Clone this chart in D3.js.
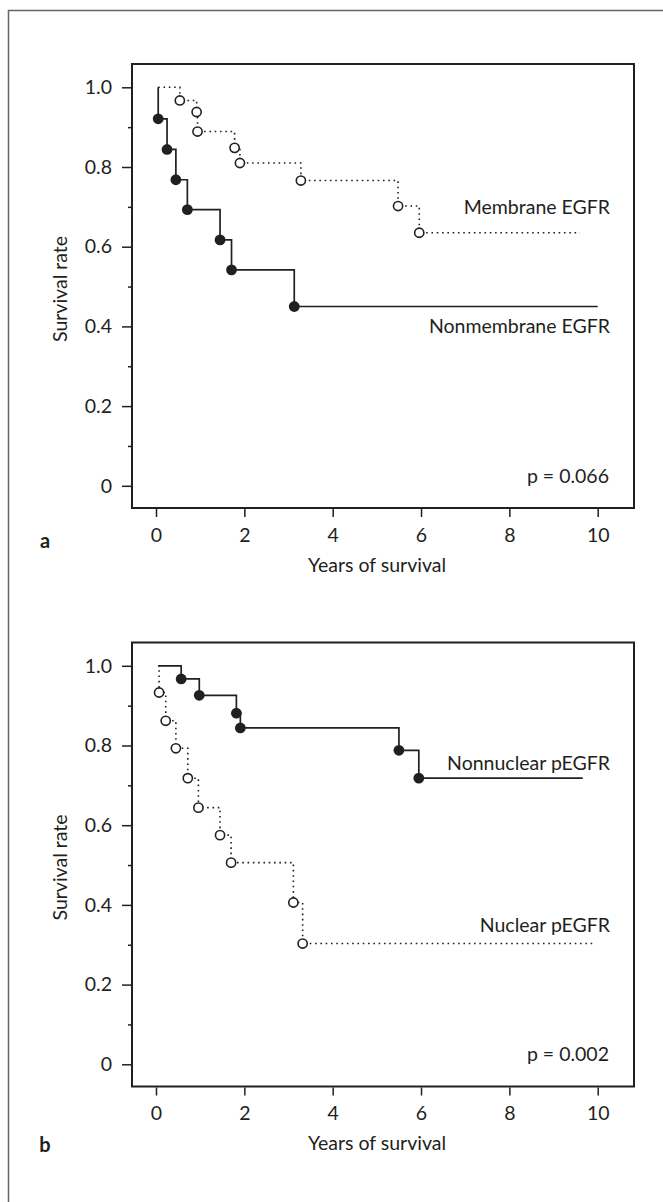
<!DOCTYPE html>
<html lang="en">
  <head>
    <meta charset="utf-8">
    <title>Survival curves</title>
    <style>
      body { margin: 0; background: #fff; }
      text { font-family: Lato, "Open Sans", sans-serif; fill: #231f20; }
    </style>
  </head>
  <body>
<svg id="chart" width="663" height="1202"></svg>
<script src="https://d3js.org/d3.v7.min.js"></script>
<script>
// ticks
const yearTicks = [0, 2, 4, 6, 8, 10];
const rateTicks = [0, 0.2, 0.4, 0.6, 0.8, 1.0];
const rateMinor = [0.1, 0.3, 0.5, 0.7, 0.9];

// panel a
const membraneTimes = [0.54, 0.92, 0.94, 1.78, 1.9, 3.28, 5.48, 5.96];
const membraneRates = [0.967, 0.938, 0.889, 0.848, 0.81, 0.766, 0.702, 0.635];
const membraneEnd = 9.6;
const nonmembraneTimes = [0.05, 0.25, 0.45, 0.71, 1.45, 1.71, 3.13];
const nonmembraneRates = [0.921, 0.844, 0.768, 0.693, 0.617, 0.542, 0.45];
const nonmembraneEnd = 10;

// panel b
const nonnuclearTimes = [0.57, 0.98, 1.82, 1.91, 5.5, 5.95];
const nonnuclearRates = [0.967, 0.926, 0.881, 0.844, 0.788, 0.718];
const nonnuclearEnd = 9.66;
const nuclearTimes = [0.07, 0.22, 0.45, 0.72, 0.96, 1.45, 1.7, 3.11, 3.32];
const nuclearRates = [0.933, 0.862, 0.793, 0.718, 0.644, 0.575, 0.506, 0.406, 0.303];
const nuclearEnd = 9.94;

const startTime = 0.05;
const ink = "#231f20";

const svg = d3.select("#chart");

// outer frame, only top and left edges fall inside the page
svg.append("rect")
  .attr("x", 8.5).attr("y", 10.5)
  .attr("width", 800).attr("height", 1400)
  .attr("fill", "none").attr("stroke", "#666").attr("stroke-width", 1.5);

const x = d3.scaleLinear().domain([0, 10]).range([156, 597.7]);
const y = d3.scaleLinear().domain([0, 1]).range([421.8, 23.3]);

const stepLine = d3.line()
  .x(d => x(d[0]))
  .y(d => y(d[1]))
  .curve(d3.curveStepAfter);

function stepPoints(times, rates, end) {
  let pts = [[startTime, 1]];
  times.forEach((t, i) => pts.push([t, rates[i]]));
  pts.push([end, rates[rates.length - 1]]);
  return pts;
}

function drawCurve(g, times, rates, end, dotted) {
  let path = g.append("path")
    .attr("d", stepLine(stepPoints(times, rates, end)))
    .attr("fill", "none")
    .attr("stroke", ink);
  if (dotted) {
    path.attr("stroke-width", 1.6).attr("stroke-dasharray", "1.6 3.7");
  } else {
    path.attr("stroke-width", 1.7);
  }
  g.selectAll(null)
    .data(times.map((t, i) => [t, rates[i]]))
    .enter().append("circle")
    .attr("cx", d => x(d[0]))
    .attr("cy", d => y(d[1]))
    .attr("r", dotted ? 4.6 : 5.4)
    .attr("fill", dotted ? "#fff" : ink)
    .attr("stroke", ink)
    .attr("stroke-width", dotted ? 1.6 : 0);
}

function drawPanel(top, letter, letterY, pText, curves, labels) {
  let g = svg.append("g").attr("transform", "translate(0," + top + ")");

  let yAxis = g.append("g")
    .attr("transform", "translate(132,0)")
    .call(d3.axisLeft(y).tickValues(rateTicks).tickSize(10).tickPadding(10)
      .tickFormat(d => d === 0 ? "0" : d3.format(".1f")(d)));
  let yMinor = g.append("g")
    .attr("transform", "translate(132,0)")
    .call(d3.axisLeft(y).tickValues(rateMinor).tickSize(4).tickFormat(""));
  let xAxis = g.append("g")
    .attr("transform", "translate(0,445)")
    .call(d3.axisBottom(x).tickValues(yearTicks).tickSize(8).tickPadding(11));

  [yAxis, yMinor, xAxis].forEach(a => {
    a.select(".domain").remove();
    a.selectAll("line").attr("stroke", ink).attr("stroke-width", 1.5);
    a.selectAll("text").attr("font-size", 19.5).attr("font-family", null).attr("fill", ink);
  });

  g.append("rect")
    .attr("x", 132).attr("y", 0)
    .attr("width", 502).attr("height", 444)
    .attr("fill", "none").attr("stroke", ink).attr("stroke-width", 2);

  curves.forEach(c => drawCurve(g, c[0], c[1], c[2], c[3]));

  labels.forEach(l => {
    g.append("text")
      .attr("x", 610).attr("y", l[1]).attr("dy", "0.35em")
      .attr("text-anchor", "end").attr("font-size", 19.5)
      .text(l[0]);
  });

  g.append("text")
    .attr("x", 609).attr("y", 412).attr("dy", "0.35em")
    .attr("text-anchor", "end").attr("font-size", 19.5)
    .text(pText);

  g.append("text")
    .attr("x", 377).attr("y", 501).attr("dy", "0.35em")
    .attr("text-anchor", "middle").attr("font-size", 19.5)
    .text("Years of survival");

  g.append("text")
    .attr("transform", "translate(60,225) rotate(-90)")
    .attr("dy", "0.35em")
    .attr("text-anchor", "middle").attr("font-size", 19.5)
    .text("Survival rate");

  g.append("text")
    .attr("x", 45).attr("y", letterY).attr("dy", "0.35em")
    .attr("text-anchor", "middle").attr("font-size", 20).attr("font-weight", "bold")
    .text(letter);
}

drawPanel(64, "a", 477, "p = 0.066",
  [[membraneTimes, membraneRates, membraneEnd, true],
   [nonmembraneTimes, nonmembraneRates, nonmembraneEnd, false]],
  [["Membrane EGFR", 142.7], ["Nonmembrane EGFR", 261.7]]);

drawPanel(642.5, "b", 502.5, "p = 0.002",
  [[nuclearTimes, nuclearRates, nuclearEnd, true],
   [nonnuclearTimes, nonnuclearRates, nonnuclearEnd, false]],
  [["Nonnuclear pEGFR", 120.8], ["Nuclear pEGFR", 282.5]]);
</script>
  </body>
</html>
